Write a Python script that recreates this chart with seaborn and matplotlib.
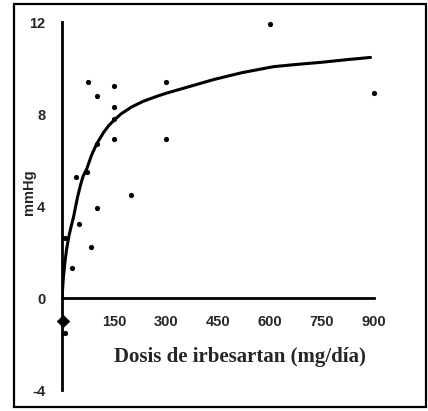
import numpy as np
import pandas as pd
import matplotlib
matplotlib.use("Agg")
import matplotlib.pyplot as plt
import seaborn as sns
from matplotlib.patches import Rectangle

# individual patients: dose (mg/day) vs drop in pressure (mmHg)
dose = [600, 900, 300, 300, 75, 150, 100, 150, 150, 150, 100, 73, 40, 200, 100, 50, 85, 28, 8, 9]
change = [11.9, 8.9, 9.4, 6.9, 9.4, 9.2, 8.8, 8.3, 7.8, 6.9, 6.7, 5.5, 5.25, 4.5, 3.9, 3.2, 2.2, 1.3, 2.6, -1.5]

# placebo point (diamond)
placebo_x = [2]
placebo_y = [-1.0]

# fitted curve
curve_x = [0, 4, 8, 13, 20, 27, 33, 45, 55, 61, 71, 85, 100, 120, 135, 148, 170, 200, 234,
           270, 300, 369, 438, 520, 611, 680, 750, 820, 890]
curve_y = [0, 0.9, 1.5, 2.1, 2.7, 3.15, 3.5, 4.4, 5.0, 5.3, 5.6, 6.2, 6.7, 7.2, 7.5, 7.7,
           8.0, 8.3, 8.55, 8.75, 8.9, 9.2, 9.5, 9.8, 10.06, 10.16, 10.25, 10.36, 10.46]

xticks = [150, 300, 450, 600, 750, 900]
yticks = [12, 8, 4, 0, -4]

sns.set_style("white")
plt.rcParams['font.family'] = ['Liberation Sans', 'DejaVu Sans']

fig = plt.figure(figsize=(4.28, 4.11), dpi=100)
ax = fig.add_axes([62/428, 21/411, 312/428, 368/411])

pts = pd.DataFrame({"dose": dose, "change": change})
sns.scatterplot(data=pts, x="dose", y="change", color="black", s=14, edgecolor="black",
                linewidth=0, ax=ax, clip_on=False, zorder=4)
sns.scatterplot(x=placebo_x, y=placebo_y, marker="D", color="black", s=40, edgecolor="black",
                linewidth=0.5, ax=ax, clip_on=False, zorder=5)
sns.lineplot(x=curve_x, y=curve_y, color="black", linewidth=2.2, ax=ax, zorder=3,
             solid_capstyle="round", solid_joinstyle="round")

ax.set_xlim(0, 900)
ax.set_ylim(-4, 12)
ax.set_xticks(xticks)
ax.set_yticks(yticks)
ax.set_yticklabels([str(t) for t in yticks])
ax.set_xlabel("")
ax.set_ylabel("")

for s in ["top", "right"]:
    ax.spines[s].set_visible(False)
ax.spines["bottom"].set_position(("data", 0))
ax.spines["left"].set_position(("data", 0))
ax.spines["bottom"].set_linewidth(2)
ax.spines["left"].set_linewidth(2)
ax.spines["bottom"].set_color("black")
ax.spines["left"].set_color("black")

ax.tick_params(axis="x", direction="in", length=4, width=1.5, pad=12, labelsize=10.5)
ax.tick_params(axis="y", direction="in", length=5, width=1.5, pad=12, labelsize=10.5)
for lab in ax.get_xticklabels() + ax.get_yticklabels():
    lab.set_fontweight("bold")

fig.text(29/428, 1 - 192/411, "mmHg", rotation=90, ha="center", va="center",
         fontsize=10.5, fontweight="bold")
fig.text(240/428, 1 - 357/411, "Dosis de irbesartan (mg/día)", ha="center", va="center",
         fontsize=15, fontweight="bold", family=["Liberation Serif", "DejaVu Serif"])

# outer frame
fig.patches.append(Rectangle((14/428, 4/411), 412/428, 403/411, transform=fig.transFigure,
                             fill=False, edgecolor="black", linewidth=1.6))

fig.savefig("out.png", dpi=100)
